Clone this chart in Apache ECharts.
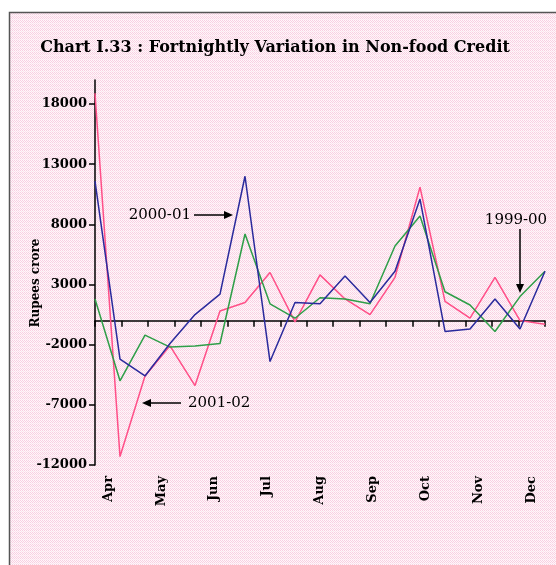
<!DOCTYPE html>
<html>
<head>
<meta charset="utf-8">
<script src="https://cdn.jsdelivr.net/npm/echarts@6.0.0/dist/echarts.min.js"></script>
<style>
  html, body { margin: 0; padding: 0; background: #fff; }
  #chart { width: 556px; height: 565px; }
</style>
</head>
<body>
<div id="chart"></div>
<script>
// months shown on the x axis
var months = ['Apr', 'May', 'Jun', 'Jul', 'Aug', 'Sep', 'Oct', 'Nov', 'Dec'];
// y axis ticks (Rupees crore)
var yTicks = [-12000, -7000, -2000, 3000, 8000, 13000, 18000];

// fortnightly variation, 19 points each
var s2001 = [18900, -11300, -4600, -2100, -5400, 800, 1500, 4000, -100, 3800, 1800, 500, 3600, 11100, 1600, 200, 3600, 0, -300];
var s2000 = [11600, -3200, -4600, -1900, 500, 2200, 12000, -3400, 1500, 1400, 3700, 1500, 4100, 10100, -900, -700, 1800, -700, 4100];
var s1999 = [1800, -5000, -1200, -2200, -2100, -1900, 7200, 1400, 200, 1900, 1800, 1400, 6200, 8700, 2400, 1300, -900, 2000, 4100];

// tick slots: two per month, last month only one
var slots = [];
months.forEach(function (m, i) {
  slots.push(m);
  if (i < months.length - 1) slots.push(m + ' II');
});
var points = s2001.map(function (v, i) { return String(i + 1); });

// light pink cross-hatch background like the original
function makePattern() {
  var c = document.createElement('canvas');
  c.width = 4; c.height = 4;
  var ctx = c.getContext('2d');
  ctx.fillStyle = '#fff6fa';
  ctx.fillRect(0, 0, 4, 4);
  ctx.fillStyle = '#f8d0e2';
  ctx.fillRect(0, 0, 1, 1);
  ctx.fillRect(2, 0, 1, 1);
  ctx.fillRect(1, 1, 1, 1);
  ctx.fillRect(3, 1, 1, 1);
  ctx.fillRect(0, 2, 1, 1);
  ctx.fillRect(2, 2, 1, 1);
  ctx.fillStyle = '#fbe2ed';
  ctx.fillRect(1, 3, 1, 1);
  ctx.fillRect(3, 3, 1, 1);
  return c;
}

var lblFont = 'DejaVu Serif';

function arrow(x1, y1, x2, y2) {
  // line plus a filled head at (x2,y2)
  var a = Math.atan2(y2 - y1, x2 - x1);
  var L = 9, W = 4;
  var bx = x2 - L * Math.cos(a), by = y2 - L * Math.sin(a);
  return [
    { type: 'line', shape: { x1: x1, y1: y1, x2: bx, y2: by }, style: { stroke: '#000', lineWidth: 1.5 } },
    { type: 'polygon', shape: { points: [[x2, y2],
        [bx + W * Math.sin(a), by - W * Math.cos(a)],
        [bx - W * Math.sin(a), by + W * Math.cos(a)]] }, style: { fill: '#000' } }
  ];
}

function note(txt, x, y, align) {
  return { type: 'text', x: x, y: y, style: { text: txt, font: '15px ' + lblFont, fill: '#000', align: align, verticalAlign: 'middle' } };
}

var chart = echarts.init(document.getElementById('chart'));
var option = {
  backgroundColor: '#fff',
  animation: false,
  title: {
    text: 'Chart I.33 : Fortnightly Variation in Non-food Credit',
    left: 270,
    top: 35,
    textAlign: 'center',
    textStyle: { fontFamily: lblFont, fontWeight: 'bold', fontSize: 16, color: '#000' }
  },
  grid: { left: 95, right: 11, top: 80, bottom: 100, outerBoundsMode: 'none' },
  xAxis: [
    { // ticks on the zero line
      type: 'category',
      data: slots,
      boundaryGap: true,
      axisLine: { onZero: true, lineStyle: { color: '#000', width: 1.5 } },
      axisTick: { show: true, interval: 0, length: 6, lineStyle: { color: '#000', width: 1.5 } },
      axisLabel: { show: false },
      splitLine: { show: false }
    },
    { // month names at the bottom
      type: 'category',
      data: slots,
      position: 'bottom',
      boundaryGap: true,
      axisLine: { show: false, onZero: false },
      axisTick: { show: false },
      axisLabel: {
        interval: 1,
        rotate: 90,
        margin: 11,
        fontFamily: lblFont,
        fontWeight: 'bold',
        fontSize: 13,
        color: '#000'
      },
      splitLine: { show: false }
    },
    { // data points
      type: 'category',
      data: points,
      boundaryGap: false,
      show: false,
      axisLine: { onZero: false }
    }
  ],
  yAxis: {
    type: 'value',
    min: -12000,
    max: 20000,
    axisLine: { show: true, lineStyle: { color: '#000', width: 1.5 } },
    axisTick: { show: true, length: 6, customValues: yTicks, lineStyle: { color: '#000', width: 1.5 } },
    axisLabel: {
      customValues: yTicks,
      margin: 8,
      fontFamily: lblFont,
      fontWeight: 'bold',
      fontSize: 13,
      color: '#000',
      formatter: function (v) { return String(v); }
    },
    splitLine: { show: false }
  },
  series: [
    { name: '2001-02', type: 'line', xAxisIndex: 2, data: s2001, symbol: 'none',
      lineStyle: { color: '#ff4f88', width: 1.5 }, z: 3 },
    { name: '1999-00', type: 'line', xAxisIndex: 2, data: s1999, symbol: 'none',
      lineStyle: { color: '#2e9e48', width: 1.5 }, z: 4 },
    { name: '2000-01', type: 'line', xAxisIndex: 2, data: s2000, symbol: 'none',
      lineStyle: { color: '#2a2a9c', width: 1.5 }, z: 5 }
  ],
  graphic: [
    { type: 'rect', z: -10, silent: true,
      shape: { x: 9.5, y: 12.5, width: 600, height: 600 },
      style: { fill: { image: makePattern(), repeat: 'repeat' }, stroke: '#555', lineWidth: 1.5 } },
    { type: 'text', x: 36, y: 283, rotation: Math.PI / 2,
      style: { text: 'Rupees crore', font: 'bold 12px ' + lblFont, fill: '#000', align: 'center', verticalAlign: 'middle' } },
    note('2000-01', 191, 215, 'right'),
    note('2001-02', 188, 403, 'left'),
    note('1999-00', 516, 220, 'center')
  ].concat(arrow(194, 215, 233, 215), arrow(181, 403, 142, 403), arrow(520, 229, 520, 293))
};
chart.setOption(option);
</script>
</body>
</html>
